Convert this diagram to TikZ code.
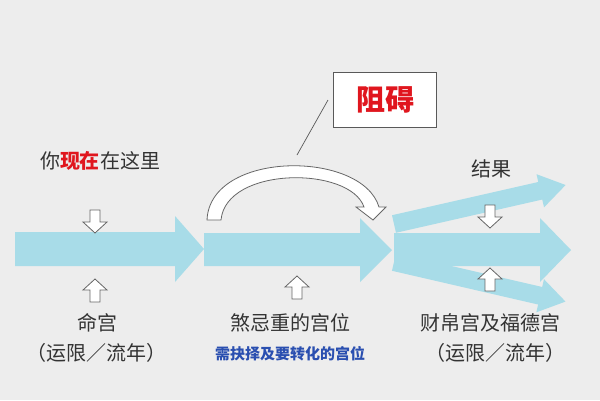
\documentclass[tikz,border=0pt]{standalone}
\usepackage{fontspec}
\newfontfamily\cjk{Noto Sans CJK SC}
\begin{document}
\begin{tikzpicture}[x=1pt,y=-1pt,
  hollow/.style={draw=gray!80!black, fill=white, line width=0.8pt, line join=miter},
  lbl/.style={font=\cjk\fontsize{20}{24}\selectfont, text=black!80},
  pics/downarr/.style={code={\path[hollow] (-5,0)--(5,0)--(5,12)--(12,12)--(0,23)--(-12,12)--(-5,12)--cycle;}},
  pics/uparr/.style={code={\path[hollow] (-5,23)--(5,23)--(5,11)--(12,11)--(0,0)--(-12,11)--(-5,11)--cycle;}},
]
\definecolor{arrowc}{HTML}{A8DCE8}
\definecolor{bg}{HTML}{EDEDED}
\definecolor{redt}{HTML}{E0161E}
\definecolor{bluet}{HTML}{2A4FB0}
\fill[bg] (0,0) rectangle (600,400);
\useasboundingbox (0,0) rectangle (600,400);
% main arrows
\fill[arrowc] (15,232)--(175,232)--(175,216)--(204,249)--(175,282)--(175,266)--(15,266)--cycle;
\fill[arrowc] (204,233)--(360,233)--(360,218)--(392,250)--(360,282)--(360,266)--(204,266)--cycle;
\fill[arrowc] (394,233)--(540,233)--(540,218)--(571,250)--(540,282)--(540,266)--(394,266)--cycle;
\begin{scope}[shift={(394,224)},rotate=12.8]
\fill[arrowc] (0,-9)--(150,-9)--(150,-17)--(176,0)--(150,17)--(150,9)--(0,9)--cycle;
\end{scope}
\begin{scope}[shift={(394,262)},rotate=-13]
\fill[arrowc] (0,-9)--(150,-9)--(150,-17)--(176,0)--(150,17)--(150,9)--(0,9)--cycle;
\end{scope}
% curved hollow arrow
\path[hollow] (207,220) .. controls (210,150) and (362,150) .. (379,207) -- (386,207) -- (373,220) -- (356,207) -- (364,207) .. controls (350,166) and (226,166) .. (221,220) -- cycle;
% box
\node[draw=gray!70!black, line width=0.8pt, fill=white, minimum width=103pt, minimum height=55pt, font=\cjk\bfseries\fontsize{29}{32}\selectfont, text=redt] (box) at (385,100) {阻碍};
\coordinate (ctop) at (328,100);
\coordinate (cbot) at (297,155);
\draw[gray!70!black, line width=0.7pt] (cbot) -- (ctop);
% small hollow arrows
\pic at (95,210) {downarr};
\pic at (95,279) {uparr};
\pic at (297,276) {uparr};
\pic at (490,205) {downarr};
\pic at (490,268) {uparr};
% labels
\node[lbl] (here) at (100,161) {你{\color{redt}\bfseries 现在}在这里};
\node[lbl] (res) at (491,169) {结果};
\node[lbl] (ming) at (97,323) {命宫};
\node[lbl] (ming2) at (97,353) {（运限／流年）};
\node[lbl] (sha) at (290,323) {煞忌重的宫位};
\node[font=\cjk\bfseries\fontsize{15}{18}\selectfont, text=bluet] (need) at (290,354) {需抉择及要转化的宫位};
\node[lbl] (cai) at (490,323) {财帛宫及福德宫};
\node[lbl] (cai2) at (495,353) {（运限／流年）};
\end{tikzpicture}
\end{document}
